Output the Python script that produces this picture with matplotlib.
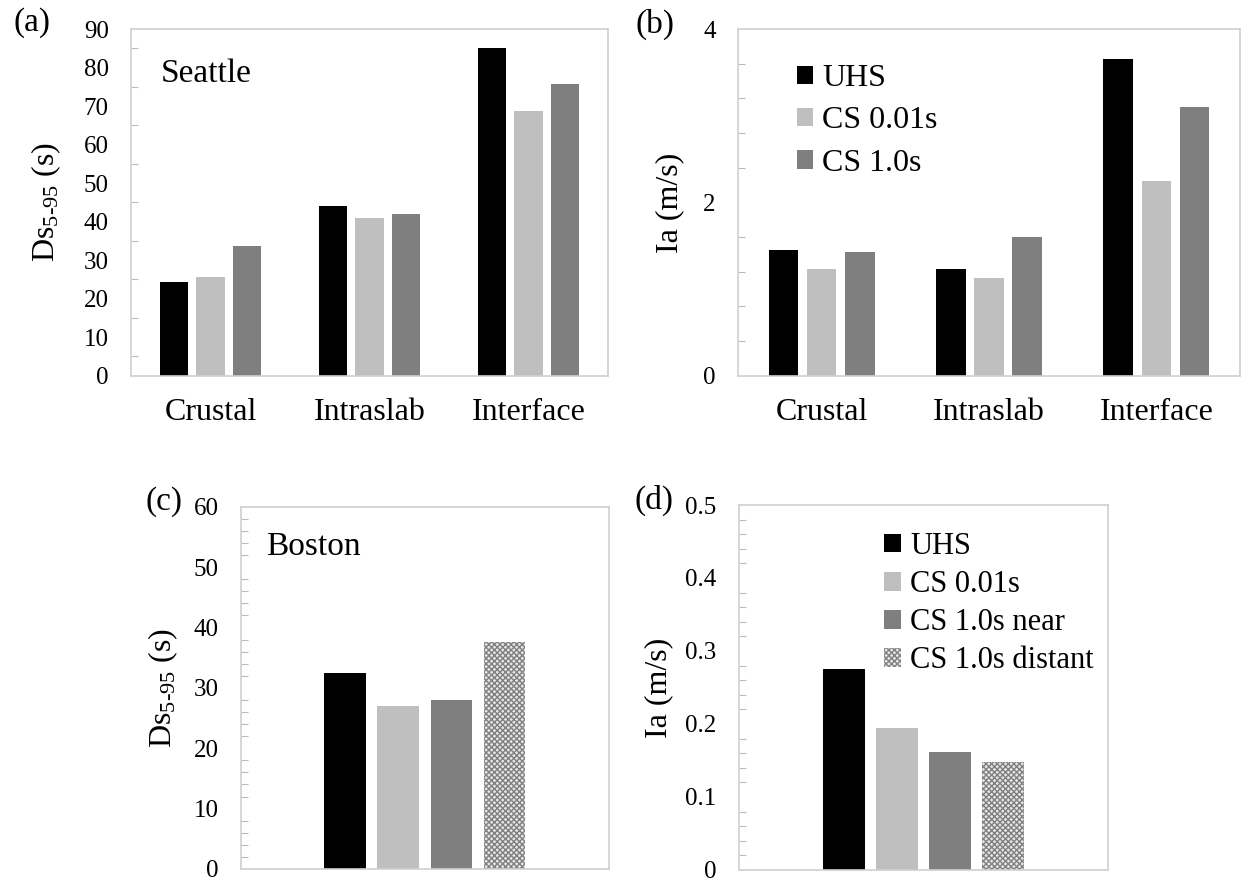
import matplotlib
matplotlib.use("Agg")
import matplotlib.pyplot as plt
from matplotlib.ticker import MultipleLocator, FuncFormatter

plt.rcParams['font.family'] = ['Liberation Serif', 'DejaVu Serif']
plt.rcParams['mathtext.fontset'] = 'custom'
plt.rcParams['mathtext.rm'] = 'Liberation Serif'
plt.rcParams['mathtext.it'] = 'Liberation Serif:italic'
plt.rcParams['hatch.linewidth'] = 1.0

# Seattle (three source types)
categories = ['Crustal', 'Intraslab', 'Interface']
seattle_labels = ['UHS', 'CS 0.01s', 'CS 1.0s']
seattle_ds = [[24.3, 44.1, 85.2],   # UHS
              [25.5, 41.0, 68.7],   # CS 0.01s
              [33.7, 42.1, 75.7]]   # CS 1.0s
seattle_ia = [[1.45, 1.23, 3.66],
              [1.23, 1.13, 2.25],
              [1.43, 1.60, 3.10]]

# Boston (single bar group)
boston_labels = ['UHS', 'CS 0.01s', 'CS 1.0s near', 'CS 1.0s distant']
boston_ds = [32.5, 27.0, 28.0, 37.6]
boston_ia = [0.275, 0.194, 0.161, 0.148]

colors = ['#000000', '#bfbfbf', '#7f7f7f', '#d9d9d9']
spine_col = '#d0d0d0'
ds_label = 'Ds$_{5\\text{-}95}$ (s)'

fig = plt.figure(figsize=(12.43, 8.88), dpi=100)


def style_axes(ax, ymax, major, minor, fmt='%g'):
    ax.set_ylim(0, ymax)
    ax.yaxis.set_major_locator(MultipleLocator(major))
    ax.yaxis.set_minor_locator(MultipleLocator(minor))
    ax.yaxis.set_major_formatter(FuncFormatter(lambda v, p: fmt % v))
    ax.tick_params(axis='y', which='major', length=0, pad=16, labelsize=18)
    ax.tick_params(axis='y', which='minor', direction='in', length=5,
                   color='#bbbbbb', width=0.8)
    ax.tick_params(axis='x', length=0, pad=16, labelsize=23)
    for s in ax.spines.values():
        s.set_color(spine_col)
        s.set_linewidth(1.2)


def seattle_panel(ax, data, ymax, major, minor):
    width = 0.177
    offsets = [-0.228, 0.0, 0.228]
    for i in range(3):
        xs = [c + offsets[i] for c in range(len(categories))]
        ax.bar(xs, data[i], width, color=colors[i], label=seattle_labels[i],
               linewidth=0)
    ax.set_xlim(-0.5, 2.5)
    ax.set_xticks(range(len(categories)))
    ax.set_xticklabels(categories)
    style_axes(ax, ymax, major, minor)


def boston_panel(ax, data, ymax, major, minor):
    width = 0.113
    offsets = [-0.216, -0.072, 0.072, 0.216]
    for i in range(4):
        if i == 3:
            ax.bar(offsets[i], data[i], width, facecolor='#e6e6e6',
                   edgecolor='#808080', hatch='xxxxxx', linewidth=0,
                   label=boston_labels[i])
        else:
            ax.bar(offsets[i], data[i], width, color=colors[i], linewidth=0,
                   label=boston_labels[i])
    ax.set_xlim(-0.5, 0.5)
    ax.set_xticks([])
    style_axes(ax, ymax, major, minor)


# (a) Seattle duration
ax_a = fig.add_axes([0.1054, 0.5769, 0.3837, 0.3904])
seattle_panel(ax_a, seattle_ds, 90, 10, 5)
ax_a.set_ylabel(ds_label, fontsize=23, labelpad=15)
ax_a.text(0.063, 0.872, 'Seattle', transform=ax_a.transAxes, fontsize=24,
          va='center', ha='left')

# (b) Seattle Arias intensity
ax_b = fig.add_axes([0.5937, 0.5769, 0.4039, 0.3904])
seattle_panel(ax_b, seattle_ia, 4, 2, 0.4)
ax_b.set_ylabel('Ia (m/s)', fontsize=23, labelpad=14)
ax_b.legend(loc='upper left', bbox_to_anchor=(0.085, 0.945), frameon=False,
            fontsize=23, handlelength=0.5, handleheight=0.5,
            handletextpad=0.3, labelspacing=0.42, borderpad=0)

# (c) Boston duration
ax_c = fig.add_axes([0.1936, 0.0214, 0.2963, 0.408])
boston_panel(ax_c, boston_ds, 60, 10, 2)
ax_c.set_ylabel(ds_label, fontsize=23, labelpad=10)
ax_c.text(0.07, 0.889, 'Boston', transform=ax_c.transAxes, fontsize=24,
          va='center', ha='left')

# (d) Boston Arias intensity
ax_d = fig.add_axes([0.5945, 0.0203, 0.2969, 0.411])
boston_panel(ax_d, boston_ia, 0.5, 0.1, 0.02)
ax_d.set_ylabel('Ia (m/s)', fontsize=23, labelpad=9)
ax_d.legend(loc='upper left', bbox_to_anchor=(0.352, 0.968), frameon=False,
            fontsize=22, handlelength=0.55, handleheight=0.55,
            handletextpad=0.3, labelspacing=0.3, borderpad=0)

# panel letters
fig.text(0.026, 0.975, '(a)', fontsize=24, ha='center', va='center')
fig.text(0.527, 0.972, '(b)', fontsize=24, ha='center', va='center')
fig.text(0.132, 0.435, '(c)', fontsize=24, ha='center', va='center')
fig.text(0.526, 0.437, '(d)', fontsize=24, ha='center', va='center')

fig.savefig('out.png', dpi=100, facecolor='white')
